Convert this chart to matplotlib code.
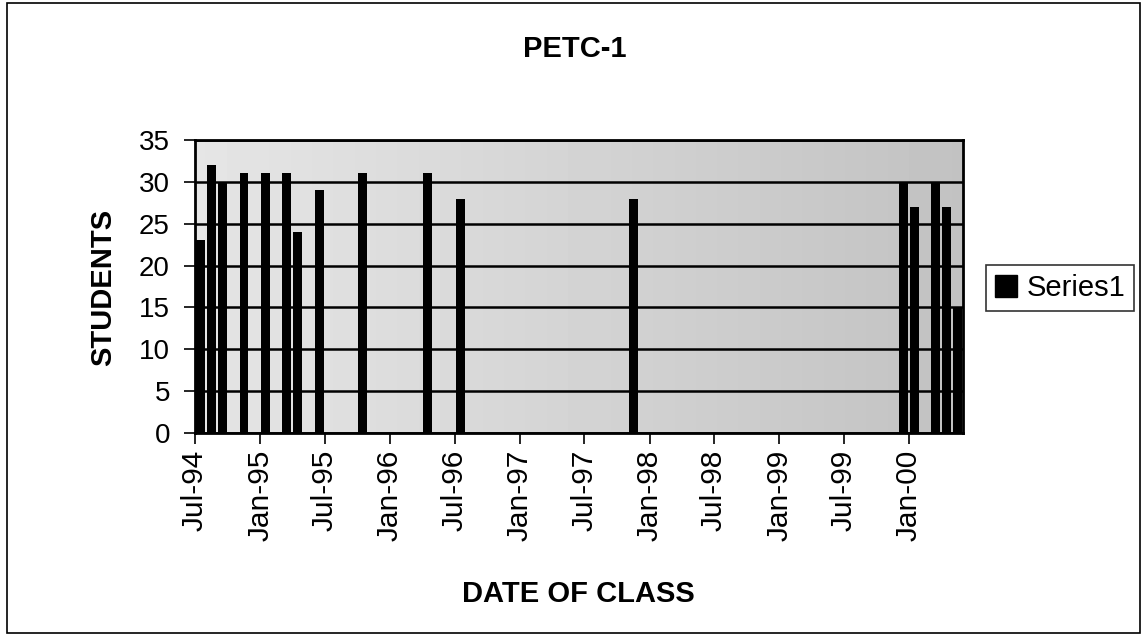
import matplotlib
matplotlib.use("Agg")
import matplotlib.pyplot as plt
import matplotlib.dates as mdates
import numpy as np
import pandas as pd
from matplotlib.patches import Rectangle
from matplotlib.lines import Line2D

# ---- data ----
class_months = ["1994-07", "1994-08", "1994-09", "1994-11", "1995-01", "1995-03",
                "1995-04", "1995-06", "1995-10", "1996-04", "1996-07", "1997-11",
                "1999-12", "2000-01", "2000-03", "2000-04", "2000-05"]
students = [23, 32, 30, 31, 31, 31, 24, 29, 31, 31, 28, 28, 30, 27, 30, 27, 15]
title = "PETC-1"
x_label = "DATE OF CLASS"
y_label = "STUDENTS"
series_name = "Series1"
y_ticks = [0, 5, 10, 15, 20, 25, 30, 35]

plt.rcParams['font.family'] = ['Liberation Sans', 'DejaVu Sans']

W, H = 1144, 641
fig = plt.figure(figsize=(W / 100, H / 100), dpi=100)
fig.patch.set_facecolor('white')

# outer chart border
fig.add_artist(Rectangle((7 / W, 1 - 633 / H), (1140 - 7) / W, (633 - 3) / H,
                         transform=fig.transFigure, fill=False, edgecolor='black', lw=1.2))

left, right, top, bottom = 195, 963, 140, 433
ax = fig.add_axes([left / W, 1 - bottom / H, (right - left) / W, (bottom - top) / H])

starts = pd.to_datetime(class_months)
centers = [mdates.date2num(s) + s.days_in_month / 2 for s in starts]
ax.bar(centers, students, width=25, color='black', zorder=3, label=series_name)

xmin = mdates.date2num(pd.Timestamp("1994-07-01"))
xmax = mdates.date2num(pd.Timestamp("2000-06-01"))
ax.set_xlim(xmin, xmax)
ax.set_ylim(0, 35)

# background shading (scanned gray)
grad = np.linspace(0.0, 1.0, 200)[None, :]
img = 0.90 - 0.14 * grad
img = np.repeat(img, 50, axis=0)
ax.imshow(img, cmap='gray', vmin=0, vmax=1, aspect='auto', extent=(xmin, xmax, 0, 35),
          zorder=0, interpolation='bilinear')

ax.set_yticks(y_ticks)
ax.yaxis.grid(True, color='black', lw=1.8, zorder=2)
ax.set_axisbelow(False)

ax.xaxis.set_major_locator(mdates.MonthLocator(bymonth=[1, 7]))
ax.xaxis.set_major_formatter(mdates.DateFormatter('%b-%y'))
ax.tick_params(axis='x', labelsize=21.5, rotation=90, length=8, width=1.2, pad=4, direction='out')
ax.tick_params(axis='y', labelsize=20, length=8, width=1.2, pad=10, direction='out')
for sp in ax.spines.values():
    sp.set_linewidth(2)
    sp.set_color('black')

fig.text(575 / W, 1 - 49 / H, title, ha='center', va='center', fontsize=21, fontweight='bold')
fig.text(578 / W, 1 - 594 / H, x_label, ha='center', va='center', fontsize=21, fontweight='bold')
fig.text(103 / W, 1 - 287 / H, y_label, ha='center', va='center', fontsize=21,
         fontweight='bold', rotation=90)

# legend
handles = [Line2D([], [], marker='s', color='black', linestyle='none', markersize=16)]
leg = fig.legend(handles, [series_name], loc='center', bbox_to_anchor=(1060 / W, 1 - 288 / H),
                 fontsize=21, frameon=True, fancybox=False, handlelength=0.8,
                 handletextpad=0.3, borderpad=0.3, borderaxespad=0)
leg.get_frame().set_edgecolor('black')
leg.get_frame().set_linewidth(1.2)

fig.savefig('out.png', dpi=100)
